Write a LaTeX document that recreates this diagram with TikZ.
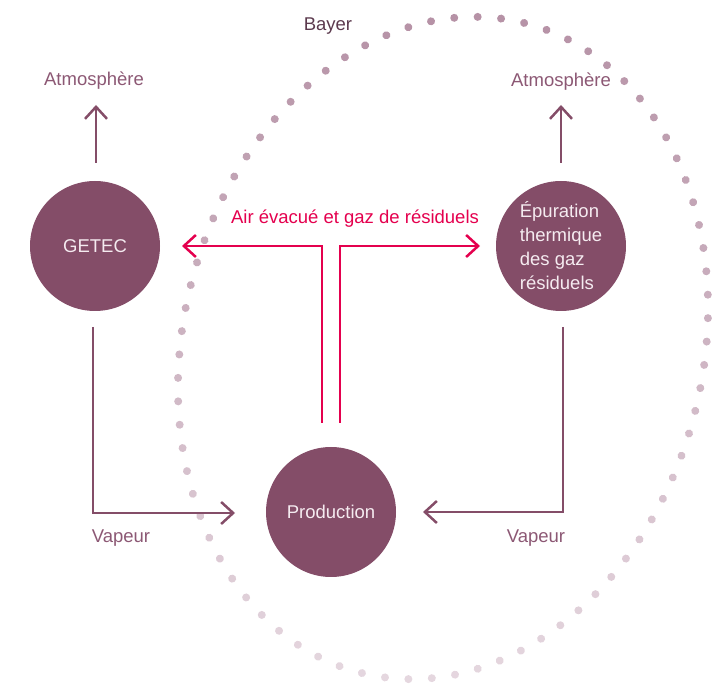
\documentclass[tikz,border=0pt]{standalone}
\usepackage{fontspec}
\setmainfont{Liberation Sans}
\usetikzlibrary{arrows.meta,decorations.markings}
\definecolor{plum}{RGB}{132,77,104}
\definecolor{labc}{RGB}{140,88,116}
\definecolor{bayc}{RGB}{92,58,78}
\definecolor{redc}{RGB}{228,0,78}
\definecolor{dottop}{RGB}{182,146,166}
\definecolor{dotbot}{RGB}{229,215,223}
\definecolor{intext}{RGB}{245,235,240}
\newcommand\bayerdot{%
  \pgfpointtransformed{\pgfpointorigin}%
  \pgfgetlastxy{\bdx}{\bdy}%
  \pgfmathsetmacro\bmix{max(0,min(100,(\bdy+679)/6.62))}%
  \fill[dottop!\bmix!dotbot] (0,0) circle (4pt);}
\begin{document}
\begin{tikzpicture}[x=1pt,y=-1pt,
  txt/.style={font=\fontsize{18.5}{24}\selectfont, inner sep=0pt},
  circ/.style={circle, fill=plum, minimum size=130pt, inner sep=0pt, text=intext, txt},
  lab/.style={txt, text=labc},
  flow/.style={draw=plum, line width=2.5pt},
  gas/.style={draw=redc, line width=2.5pt},
  tip/.style={-{Straight Barb[length=12pt,width=22pt]}}]
\useasboundingbox (0,0) rectangle (721,684);
% dotted boundary
\path[rotate around={-14:(443,348)}, postaction={decorate},
  decoration={markings, mark=between positions 0 and 0.99 step 0.0125 with {\bayerdot}}]
  (443,348) ellipse [x radius=260, y radius=335];
% nodes
\node[circ] (getec) at (95,246) {GETEC};
\node[circ, align=left] (epur) at (561,246) {Épuration\\thermique\\des gaz\\résiduels};
\node[circ] (prod) at (331,512) {Production};
\node[lab] (atmL) at (94,81) {Atmosphère};
\node[lab] (atmR) at (561,82) {Atmosphère};
\node[lab] (vapL) at (121,538) {Vapeur};
\node[lab] (vapR) at (536,538) {Vapeur};
\node[txt, text=bayc] (bayer) at (328,26) {Bayer};
\node[txt, text=redc] (gaslab) at (355,219) {Air évacué et gaz de résiduels};
% coordinates
\coordinate (gu0) at (96,163); \coordinate (gu1) at (96,105);
\coordinate (eu0) at (561,163); \coordinate (eu1) at (561,105);
\coordinate (gv0) at (93,327); \coordinate (gv1) at (93,513); \coordinate (gv2) at (235,513);
\coordinate (ev0) at (563,327); \coordinate (ev1) at (563,512); \coordinate (ev2) at (423,512);
\coordinate (r1) at (322,423); \coordinate (r2) at (322,246); \coordinate (r3) at (182,246);
\coordinate (r4) at (340,423); \coordinate (r5) at (340,246); \coordinate (r6) at (480,246);
% connectors
\draw[flow, tip] (gu0) -- (gu1);
\draw[flow, tip] (eu0) -- (eu1);
\draw[flow, tip] (gv0) -- (gv1) -- (gv2);
\draw[flow, tip] (ev0) -- (ev1) -- (ev2);
\draw[gas, tip] (r1) -- (r2) -- (r3);
\draw[gas, tip] (r4) -- (r5) -- (r6);
\end{tikzpicture}
\end{document}
